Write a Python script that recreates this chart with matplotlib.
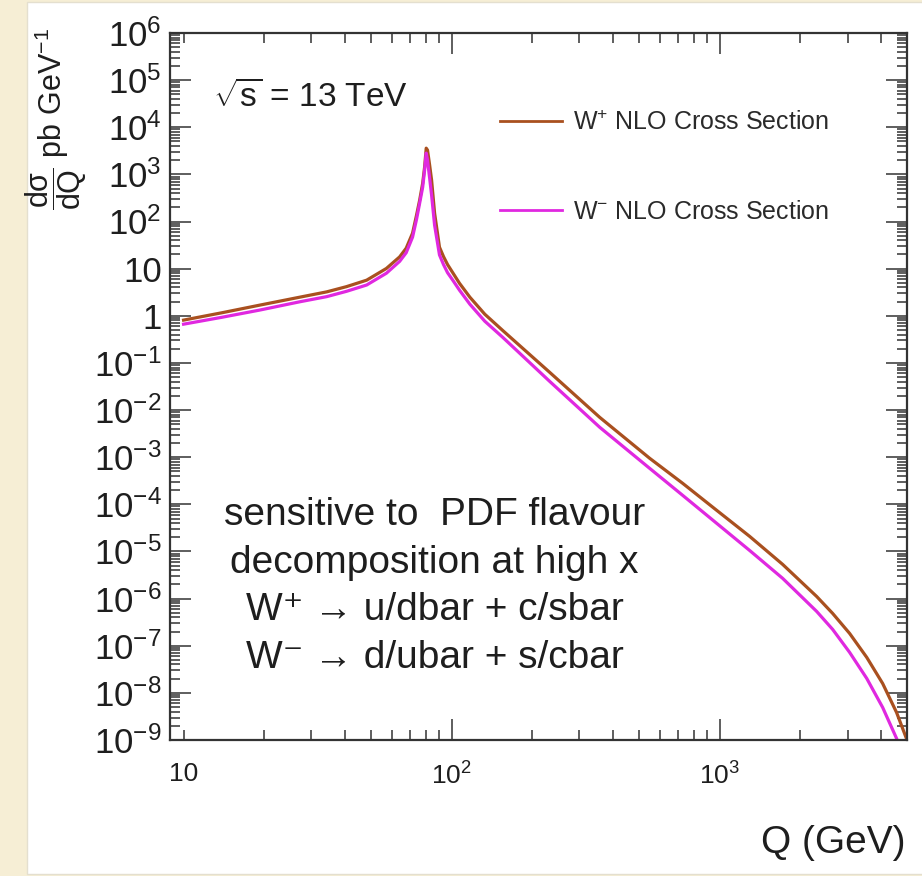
"""W+ / W- NLO cross section vs Q, ROOT-style log-log plot."""

import matplotlib

matplotlib.use("Agg")
import matplotlib.pyplot as plt
from matplotlib.lines import Line2D
from matplotlib.patches import Rectangle
from matplotlib.ticker import FixedLocator, FixedFormatter, LogLocator, NullFormatter

# values
q_gev = [10, 13.9, 19.2, 27.1, 34.2, 40.5, 48.2, 57.1, 64, 67.7, 71.5, 74, 76, 78, 79.3, 80.4,
         81.3, 82.8, 84.2, 86.4, 90.1, 93.3, 96.6, 101, 107, 117, 133, 155, 232, 357, 548,
         728, 975, 1294, 1718, 2301, 2640, 3055, 3539, 4057, 4571, 4990]
wplus_xsec = [0.81, 1.16, 1.68, 2.48, 3.22, 4.15, 5.70, 10.1, 17.8, 27.2, 56.7, 137, 285, 653,
              1430, 3600,
              3280, 1575, 757, 151, 28.6, 18.0, 12.2, 8.2, 4.9, 2.48, 1.08, 0.49, 0.0635, 7.0e-3,
              9.5e-4, 2.79e-4, 7.46e-5, 2.09e-5, 5.32e-6, 1.11e-6, 4.85e-7, 1.82e-7, 5.65e-8,
              1.58e-8, 3.84e-9, 1.03e-9]
wminus_xsec = [0.664, 0.93, 1.32, 1.98, 2.55, 3.3, 4.5, 8.0, 14.3, 21.8, 46.7, 112, 246, 537,
               1234, 2830,
               2012, 834, 364, 84, 19.6, 12.2, 8.2, 5.70, 3.50, 1.76, 0.767, 0.351, 0.0408,
               4.31e-3, 5.81e-4, 1.55e-4, 3.95e-5, 1.05e-5, 2.69e-6, 5.35e-7, 2.22e-7, 7.21e-8,
               2.02e-8, 4.90e-9, 1.08e-9, 2.88e-10]

x_ticks = [10, 100, 1000]
x_tick_labels = ["10", r"$10^{2}$", r"$10^{3}$"]
y_ticks = [10.0 ** k for k in range(-9, 7)]
y_tick_labels = [r"$10^{%d}$" % k for k in range(-9, 0)] + ["1", "10"] + \
    [r"$10^{%d}$" % k for k in range(2, 7)]

legend_labels = [r"W$^{+}$ NLO Cross Section", r"W$^{-}$ NLO Cross Section"]
note_lines = ["sensitive to  PDF flavour", "decomposition at high x",
              "W\u207a \u2192 u/dbar + c/sbar", "W\u207b \u2192 d/ubar + s/cbar"]

cream = "#f6eed5"
ink = "#1e1e1e"
brown = "#a9501f"
magenta = "#e028e0"

plt.rcParams.update({
    "font.family": ["Liberation Sans", "DejaVu Sans"],
    "mathtext.fontset": "custom",
    "mathtext.rm": "Liberation Sans",
    "mathtext.it": "Liberation Sans:italic",
    "mathtext.default": "regular",
    "text.color": ink,
})

fig = plt.figure(figsize=(9.22, 8.76), dpi=100, facecolor=cream)
fig.patches.append(Rectangle((27 / 922, 2 / 876), 1.0, 872 / 876, transform=fig.transFigure,
                             facecolor="white", edgecolor="#e4dfcf", linewidth=1.0, zorder=-10))

ax = fig.add_axes([170 / 922, 136 / 876, 737 / 922, 707 / 876])
ax.set_facecolor("white")
ax.plot(q_gev, wplus_xsec, color=brown, linewidth=2.3)
ax.plot(q_gev, wminus_xsec, color=magenta, linewidth=2.3)

ax.set_xscale("log")
ax.set_yscale("log")
ax.set_xlim(8.9, 5000)
ax.set_ylim(1e-9, 1e6)

ax.xaxis.set_major_locator(FixedLocator(x_ticks))
ax.xaxis.set_major_formatter(FixedFormatter(x_tick_labels))
minor_x = [m * 10 ** d for d in (1, 2, 3) for m in range(2, 10) if m * 10 ** d < 5000]
ax.xaxis.set_minor_locator(FixedLocator(minor_x))
ax.xaxis.set_minor_formatter(NullFormatter())
ax.yaxis.set_major_locator(FixedLocator(y_ticks))
ax.yaxis.set_major_formatter(FixedFormatter(y_tick_labels))
ax.yaxis.set_minor_locator(LogLocator(base=10, subs=range(2, 10), numticks=40))
ax.yaxis.set_minor_formatter(NullFormatter())

ax.tick_params(which="both", direction="in", top=True, right=True, color="#333333", width=1.1)
ax.tick_params(which="major", length=15)
ax.tick_params(which="minor", length=7)
ax.tick_params(axis="y", which="major", labelsize=25, pad=6, labelcolor=ink)
ax.tick_params(axis="x", which="major", labelsize=19, pad=16, labelcolor=ink)
for side in ("top", "bottom", "left", "right"):
    ax.spines[side].set_linewidth(1.6)
    ax.spines[side].set_color("#333333")
# ROOT draws the first labelled x tick short
ax.xaxis.get_major_ticks()[0].tick1line.set_markersize(7)
ax.xaxis.get_major_ticks()[0].tick2line.set_markersize(7)

handles = [Line2D([], [], color=brown, linewidth=2.0), Line2D([], [], color=magenta, linewidth=2.0)]
ax.legend(handles, legend_labels, loc="center left", bbox_to_anchor=(0.448, 0.81),
          frameon=False, fontsize=18, borderpad=0, borderaxespad=0, handlelength=2.48,
          handletextpad=0.44, labelspacing=2.6, labelcolor="#2a2a2a")

ax.text(0.058, 0.895, r"$\sqrt{s}$ = 13 TeV", transform=ax.transAxes, fontsize=24,
        ha="left", va="baseline")
for line, yb in zip(note_lines, [0.304, 0.236, 0.170, 0.102]):
    ax.text(0.359, yb, line, transform=ax.transAxes, fontsize=28, ha="center", va="baseline")

fig.text(56 / 922, 1 - 28 / 876, r"$\dfrac{d\sigma}{dQ}$ pb GeV$^{-1}$", rotation=90,
         fontsize=22, ha="center", va="top")
fig.text(905 / 922, 23 / 876, "Q (GeV)", fontsize=28, ha="right", va="baseline")

fig.savefig("out.png", dpi=100, facecolor=cream)
